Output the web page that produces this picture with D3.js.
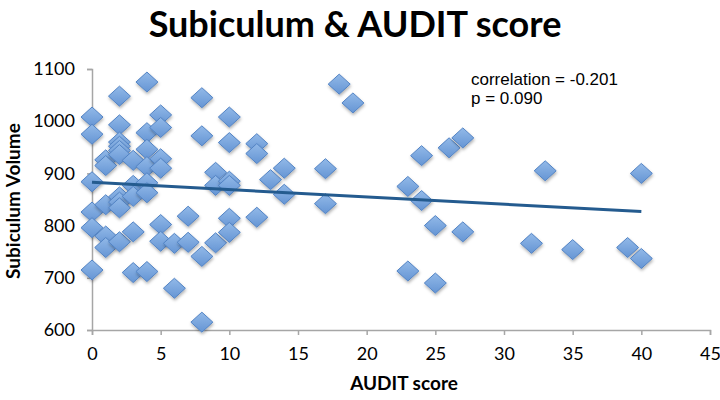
<!DOCTYPE html>
<html>
<head>
<meta charset="utf-8">
<script src="https://cdn.jsdelivr.net/npm/d3@7/dist/d3.min.js"></script>
<style>
  body { margin: 0; background: #fff; }
  .tick text { font-family: Lato, sans-serif; font-size: 18px; fill: #000; }
</style>
</head>
<body>
<div id="chart"></div>
<script>
// AUDIT score (x) and subiculum volume (y)
const auditScore = [
  0, 0, 0, 0, 0, 0,
  1, 1, 1, 1, 1,
  2, 2, 2, 2, 2, 2, 2, 2, 2, 2,
  3, 3, 3, 3, 3,
  4, 4, 4, 4, 4, 4, 4,
  5, 5, 5, 5, 5, 5,
  6, 6,
  7, 7,
  8, 8, 8, 8,
  9, 9, 9,
  10, 10, 10, 10, 10, 10,
  12, 12, 12,
  13,
  14, 14,
  17, 17,
  18,
  19,
  23, 23,
  24, 24,
  25, 25,
  26,
  27, 27,
  32,
  33,
  35,
  39,
  40, 40
];
const subVolume = [
  1008, 975, 884, 826, 796, 715,
  926, 915, 840, 780, 758,
  1048, 993, 960, 952, 944, 936, 855, 845, 834, 769,
  925, 877, 856, 788, 710,
  1075, 978, 946, 913, 882, 863, 712,
  1012, 988, 928, 910, 802, 770,
  680, 766,
  818, 768,
  1045, 972, 741, 615,
  902, 877, 767,
  1008, 959, 885, 877, 814, 787,
  957, 938, 816,
  888,
  910, 860,
  909, 842,
  1071,
  1035,
  875, 713,
  934, 848,
  800, 690,
  949,
  968, 788,
  766,
  905,
  754,
  758,
  900, 737
];

const xTicks = [0, 5, 10, 15, 20, 25, 30, 35, 40, 45];
const yTicks = [600, 700, 800, 900, 1000, 1100];

// linear fit end points
const trendX = [0, 40];
const trendY = [883, 827];

const statLines = ['correlation = -0.201', 'p = 0.090'];

const width = 720, height = 400;
const margin = {top: 69, right: 10, bottom: 70, left: 92};

const svg = d3.select('#chart').append('svg')
  .attr('width', width)
  .attr('height', height);

const x = d3.scaleLinear()
  .domain([0, 45])
  .range([margin.left, width - margin.right]);

const y = d3.scaleLinear()
  .domain([600, 1100])
  .range([height - margin.bottom, margin.top]);

// diamond look: gradient + soft shadow
const defs = svg.append('defs');
const grad = defs.append('linearGradient')
  .attr('id', 'diamondFill')
  .attr('x1', 0).attr('y1', 0).attr('x2', 0).attr('y2', 1);
grad.append('stop').attr('offset', '0%').attr('stop-color', '#92b9e8');
grad.append('stop').attr('offset', '100%').attr('stop-color', '#6595d4');

const shadow = defs.append('filter')
  .attr('id', 'shadow')
  .attr('x', '-50%').attr('y', '-50%')
  .attr('width', '200%').attr('height', '200%');
shadow.append('feDropShadow')
  .attr('dx', 0.5).attr('dy', 2)
  .attr('stdDeviation', 1.4)
  .attr('flood-color', '#000')
  .attr('flood-opacity', 0.3);

// axes
const xAxis = svg.append('g')
  .attr('transform', `translate(0,${y(600)})`)
  .call(d3.axisBottom(x).tickValues(xTicks).tickSize(5).tickPadding(9));

const yAxis = svg.append('g')
  .attr('transform', `translate(${x(0)},0)`)
  .call(d3.axisLeft(y).tickValues(yTicks).tickFormat(d3.format('d')).tickSize(5).tickPadding(12));

[xAxis, yAxis].forEach(g => {
  g.select('.domain').attr('stroke', '#a6a6a6').attr('stroke-width', 1.5);
  g.selectAll('.tick line').attr('stroke', '#a6a6a6').attr('stroke-width', 1.5);
});
xAxis.selectAll('.tick text').attr('dy', '0.9em');

// scatter points
const hw = 11, hh = 10;
svg.append('g')
  .selectAll('path')
  .data(auditScore.map((a, i) => [a, subVolume[i]]))
  .join('path')
  .attr('d', `M0,${-hh}L${hw},0L0,${hh}L${-hw},0Z`)
  .attr('transform', d => `translate(${x(d[0])},${y(d[1])})`)
  .attr('fill', 'url(#diamondFill)')
  .attr('stroke', '#5283c4')
  .attr('stroke-width', 1)
  .attr('filter', 'url(#shadow)');

// trend line
svg.append('path')
  .datum(trendX.map((v, i) => [v, trendY[i]]))
  .attr('d', d3.line().x(d => x(d[0])).y(d => y(d[1])))
  .attr('fill', 'none')
  .attr('stroke', '#245b8f')
  .attr('stroke-width', 3);

// stats text
svg.append('g')
  .selectAll('text')
  .data(statLines)
  .join('text')
  .attr('x', 471)
  .attr('y', (d, i) => 85 + i * 19)
  .style('font-family', '"Liberation Sans", Arial, sans-serif')
  .style('font-size', '17px')
  .style('fill', '#000')
  .text(d => d);

// titles
svg.append('text')
  .attr('x', 355)
  .attr('y', 37)
  .attr('text-anchor', 'middle')
  .style('font-family', 'Lato, sans-serif')
  .style('font-weight', 'bold')
  .style('font-size', '36px')
  .text('Subiculum & AUDIT score');

svg.append('text')
  .attr('x', 404)
  .attr('y', 390)
  .attr('text-anchor', 'middle')
  .style('font-family', 'Lato, sans-serif')
  .style('font-weight', 'bold')
  .style('font-size', '19px')
  .text('AUDIT score');

svg.append('text')
  .attr('transform', 'translate(20,201) rotate(-90)')
  .attr('text-anchor', 'middle')
  .style('font-family', 'Lato, sans-serif')
  .style('font-weight', 'bold')
  .style('font-size', '19px')
  .text('Subiculum Volume');
</script>
</body>
</html>
